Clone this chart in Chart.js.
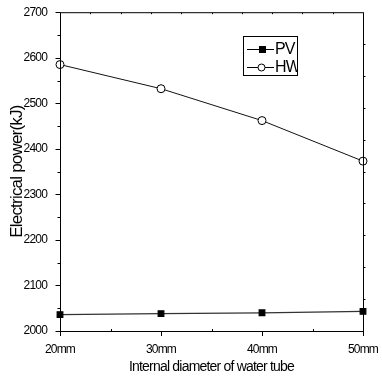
<!DOCTYPE html>
<html>
<head>
<meta charset="utf-8">
<script src="https://cdn.jsdelivr.net/npm/chart.js@4/dist/chart.umd.min.js"></script>
<style>
  html, body { margin: 0; padding: 0; background: #fff; }
  #wrap { width: 382px; height: 376px; }
</style>
</head>
<body>
<div id="wrap"><canvas id="powerChart" width="382" height="376"></canvas></div>
<script>
var diameters = [20, 30, 40, 50];
var pvValues = [2036, 2038, 2040, 2043];
var hwValues = [2585, 2532, 2462, 2373];
var yTicks = [2000, 2100, 2200, 2300, 2400, 2500, 2600, 2700];

var sans = "Arial, 'Liberation Sans', sans-serif";

function toPoints(values) {
    return diameters.map(function(d, i) { return { x: d, y: values[i] }; });
}

// tighter letters, like the narrow font of the plot
const tightText = {
    id: 'tightText',
    beforeLayout: function(chart) { chart.ctx.letterSpacing = '-0.8px'; },
    beforeDraw: function(chart) { chart.ctx.letterSpacing = '-0.8px'; }
};

// frame, tick marks and the inset legend
const framePlugin = {
    id: 'frameTicks',
    afterDatasetsDraw: function(chart) {
        const ctx = chart.ctx;
        const a = chart.chartArea;
        const xs = chart.scales.x;
        const ys = chart.scales.y;
        ctx.save();
        ctx.strokeStyle = '#000';
        ctx.lineWidth = 1;
        ctx.strokeRect(a.left + 0.5, a.top + 0.5, a.right - a.left, a.bottom - a.top);

        ctx.beginPath();
        // y axis: major every 100, minor every 50, both outside
        for (var v = 2000; v <= 2700; v += 50) {
            var py = Math.round(ys.getPixelForValue(v)) + 0.5;
            var len = (v % 100 === 0) ? 5 : 3;
            ctx.moveTo(a.left + 0.5, py);
            ctx.lineTo(a.left + 0.5 - len, py);
        }
        // x axis: major outside, minor inside
        for (var d = 20; d <= 50; d += 5) {
            var px = Math.round(xs.getPixelForValue(d)) + 0.5;
            if (d % 10 === 0) {
                ctx.moveTo(px, a.bottom + 0.5);
                ctx.lineTo(px, a.bottom + 5);
            } else {
                ctx.moveTo(px, a.bottom + 0.5);
                ctx.lineTo(px, a.bottom - 2);
            }
        }
        // top and right: small ticks, ten divisions
        for (var i = 1; i < 10; i++) {
            var tx = Math.round(a.left + (a.right - a.left) * i / 10) + 0.5;
            ctx.moveTo(tx, a.top + 0.5);
            ctx.lineTo(tx, a.top + 2);
            var ty = Math.round(a.top + (a.bottom - a.top) * i / 10) + 0.5;
            ctx.moveTo(a.right + 0.5, ty);
            ctx.lineTo(a.right + 2.5, ty);
        }
        ctx.stroke();

        // legend box
        var lx = 243, ly = 36, lw = 54, lh = 39;
        ctx.fillStyle = '#fff';
        ctx.fillRect(lx, ly, lw, lh);
        var entries = [
            { label: 'PV', y: 49, ds: chart.data.datasets[0] },
            { label: 'HW', y: 67, ds: chart.data.datasets[1] }
        ];
        ctx.save();
        ctx.beginPath();
        ctx.rect(lx, ly, lw, lh);
        ctx.clip();
        entries.forEach(function(e) {
            ctx.strokeStyle = '#000';
            ctx.beginPath();
            ctx.moveTo(lx + 4, e.y + 0.5);
            ctx.lineTo(lx + 31, e.y + 0.5);
            ctx.stroke();
            if (e.ds.pointStyle === 'rect') {
                ctx.fillStyle = '#000';
                ctx.fillRect(lx + 16, e.y - 3, 7, 7);
            } else {
                ctx.beginPath();
                ctx.arc(lx + 18.5, e.y + 0.5, 3.5, 0, Math.PI * 2);
                ctx.fillStyle = '#fff';
                ctx.fill();
                ctx.stroke();
            }
            ctx.fillStyle = '#000';
            ctx.font = '16px ' + sans;
            ctx.textBaseline = 'middle';
            ctx.textAlign = 'left';
            ctx.fillText(e.label, lx + 32, e.y + 1);
        });
        ctx.restore();
        ctx.strokeRect(lx + 0.5, ly + 0.5, lw, lh);
        ctx.restore();
    }
};

var canvasPower = document.getElementById('powerChart');
const configPower = {
    type: 'line',
    data: {
        datasets: [
            {
                label: 'PV',
                data: toPoints(pvValues),
                borderColor: '#333',
                borderWidth: 1.2,
                pointStyle: 'rect',
                pointRadius: 4,
                backgroundColor: '#000',
                pointBorderColor: '#000',
                pointBackgroundColor: '#000'
            },
            {
                label: 'HW',
                data: toPoints(hwValues),
                borderColor: '#111',
                borderWidth: 1,
                pointStyle: 'circle',
                pointRadius: 4,
                pointBorderWidth: 1,
                pointBorderColor: '#000',
                pointBackgroundColor: '#fff'
            }
        ]
    },
    options: {
        responsive: false,
        animation: false,
        clip: false,
        layout: { padding: { top: 12, right: 19, left: 0, bottom: 0 } },
        plugins: {
            legend: { display: false },
            tooltip: { enabled: false }
        },
        scales: {
            x: {
                type: 'linear',
                min: 20,
                max: 50,
                grid: { display: false },
                border: { display: false },
                ticks: {
                    stepSize: 10,
                    color: '#000',
                    padding: 3,
                    font: { family: sans, size: 12 },
                    callback: function(v) { return v + 'mm'; }
                },
                title: {
                    display: true,
                    text: 'Internal diameter of water tube',
                    color: '#000',
                    font: { family: sans, size: 14 },
                    padding: { top: 2, bottom: 0 }
                },
                afterFit: function(scale) { scale.height = 45; }
            },
            y: {
                min: 2000,
                max: 2700,
                grid: { display: false },
                border: { display: false },
                afterBuildTicks: function(scale) {
                    scale.ticks = yTicks.map(function(v) { return { value: v }; });
                },
                ticks: {
                    color: '#000',
                    padding: 5,
                    font: { family: sans, size: 12 },
                    callback: function(v) { return String(v); }
                },
                title: {
                    display: true,
                    text: 'Electrical power(kJ)',
                    color: '#000',
                    font: { family: sans, size: 17 },
                    padding: { top: 7, bottom: 2 }
                },
                afterFit: function(scale) { scale.width = 60; }
            }
        }
    },
    plugins: [tightText, framePlugin]
};
var PowerChart = new Chart(canvasPower, configPower);
</script>
</body>
</html>
